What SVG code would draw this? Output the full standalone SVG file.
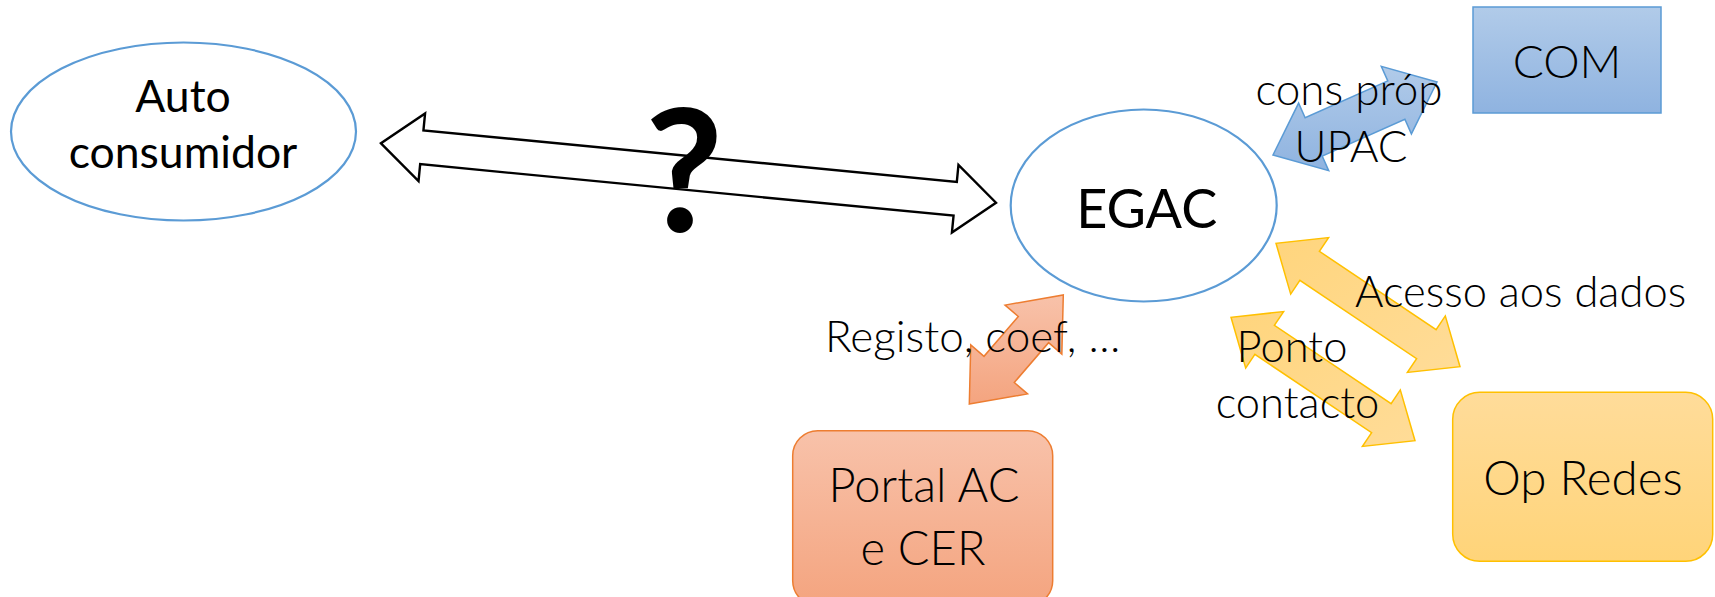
<svg xmlns="http://www.w3.org/2000/svg" width="1715" height="597" viewBox="0 0 1715 597">
<defs>
<linearGradient id="gBlue" x1="0" y1="0" x2="0" y2="1"><stop offset="0" stop-color="#b1cbe9"/><stop offset="1" stop-color="#8fb3e0"/></linearGradient>
<linearGradient id="gOrange" x1="0" y1="0" x2="0" y2="1"><stop offset="0" stop-color="#f8c2aa"/><stop offset="1" stop-color="#f4a47f"/></linearGradient>
<linearGradient id="gYellow" x1="0" y1="0" x2="0" y2="1"><stop offset="0" stop-color="#ffdc9a"/><stop offset="1" stop-color="#ffd479"/></linearGradient>
<linearGradient id="gYellowA" x1="0" y1="0" x2="1" y2="1"><stop offset="0" stop-color="#ffd57d"/><stop offset="1" stop-color="#ffdc98"/></linearGradient>
</defs>
<style>
.ell{fill:#ffffff;stroke:#5b9bd5;stroke-width:2.2}
.t{font-family:Lato,"Open Sans","Liberation Sans",sans-serif;font-weight:300;fill:#000000;text-anchor:middle}
.blue{fill:url(#gBlue);stroke:#5b9bd5;stroke-width:1.5}
.orange{fill:url(#gOrange);stroke:#ed7d31;stroke-width:1.5}
.yellow{fill:url(#gYellow);stroke:#ffc000;stroke-width:1.5}
.yarrow{fill:url(#gYellowA);stroke:#ffc000;stroke-width:1.5}
.outline{fill:#ffffff;stroke:#000000;stroke-width:2.4;stroke-linejoin:miter}
</style>
<rect width="1715" height="597" fill="#ffffff"/>
<g id="connectors">
<polygon class="outline" points="381,143.3 418.54,181.08 420.18,164.16 953.56,215.68 951.92,232.6 996,202.7 958.46,164.92 956.82,181.84 423.44,130.32 425.08,113.4"/>
<polygon class="blue" points="1273,155 1328.71,170.7 1322.2,156.09 1404.88,119.29 1411.39,133.9 1437,82 1381.29,66.3 1387.8,80.91 1305.12,117.71 1298.61,103.1"/>
<polygon class="orange" points="969.3,404 1027.55,393.89 1014.3,382.45 1048.6,342.67 1061.85,354.11 1063.3,295 1005.05,305.11 1018.3,316.55 984,356.33 970.75,344.89"/>
<polygon class="yarrow" points="1276,243.3 1290.7,294.1 1299.89,280.39 1416.61,358.67 1407.42,372.38 1460,366.7 1445.3,315.9 1436.11,329.61 1319.39,251.33 1328.58,237.62"/>
<polygon class="yarrow" points="1231,317.3 1245.7,368.1 1254.89,354.39 1371.61,432.67 1362.42,446.38 1415,440.7 1400.3,389.9 1391.11,403.61 1274.39,325.33 1283.58,311.62"/>
<text class="t" x="684" y="232" font-size="170" style="font-weight:bold">?</text>
<text class="t" x="1349" y="105" font-size="44">cons próp</text>
<text class="t" x="1351" y="161.7" font-size="44">UPAC</text>
<text class="t" x="825" y="351.7" font-size="44" style="text-anchor:start">Registo, coef, …</text>
<text class="t" x="1355" y="307.3" font-size="43.5" style="text-anchor:start">Acesso aos dados</text>
<text class="t" x="1292" y="361.7" font-size="43.5">Ponto</text>
<text class="t" x="1297.5" y="418.3" font-size="43.5">contacto</text>
</g>
<g id="autoconsumidor">
<ellipse class="ell" cx="183.5" cy="131.5" rx="172.5" ry="89"/>
<text class="t" x="183" y="112" font-size="44.5" style="font-weight:normal">Auto</text>
<text class="t" x="183" y="168" font-size="44.5" style="font-weight:normal">consumidor</text>
</g>
<g id="egac">
<ellipse class="ell" cx="1143.7" cy="205.5" rx="133" ry="96"/>
<text class="t" x="1146.7" y="227.7" font-size="54" style="font-weight:normal">EGAC</text>
</g>
<g id="com">
<rect class="blue" x="1473" y="7" width="188" height="106"/>
<text class="t" x="1567" y="78" font-size="46">COM</text>
</g>
<g id="portal">
<rect class="orange" x="792.7" y="430.7" width="260" height="175" rx="25"/>
<text class="t" x="924" y="501.7" font-size="47">Portal AC</text>
<text class="t" x="923" y="565" font-size="47">e CER</text>
</g>
<g id="opredes">
<rect class="yellow" x="1452.7" y="392.3" width="260" height="169" rx="27"/>
<text class="t" x="1583" y="495" font-size="47.5">Op Redes</text>
</g>
</svg>
